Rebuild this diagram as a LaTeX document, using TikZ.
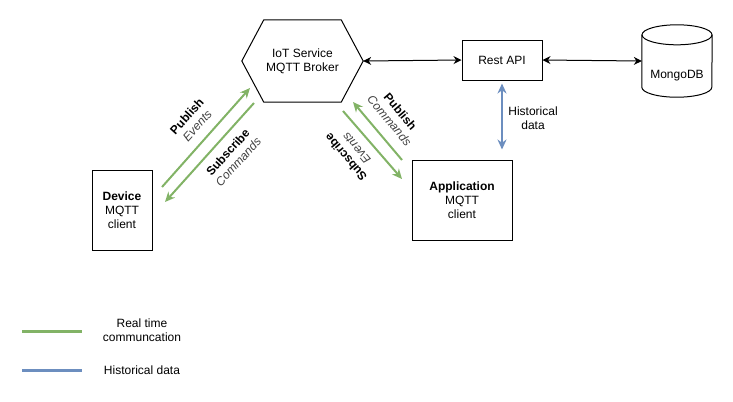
\documentclass[tikz,border=0pt]{standalone}
\usepackage{fontspec}
\setmainfont{Liberation Sans}
\usetikzlibrary{arrows.meta}

\definecolor{rtgreen}{HTML}{82B366}
\definecolor{hdblue}{HTML}{6C8EBF}

\tikzset{
  every node/.style={font=\fontsize{12bp}{14bp}\selectfont, align=center},
  box/.style={draw, rectangle, line width=1bp},
  linkarrow/.style={line width=1bp, {Stealth[length=8bp,width=8bp]}-{Stealth[length=8bp,width=8bp]}},
  realtime/.style={draw=rtgreen, line width=2bp, -{Stealth[length=10bp,width=9bp]}},
  histdata/.style={draw=hdblue, line width=2bp, {Stealth[length=10bp,width=9bp]}-{Stealth[length=10bp,width=9bp]}},
  legendline/.style={line width=3bp}
}

\begin{document}
\begin{tikzpicture}[x=1bp, y=-1bp]
  \useasboundingbox (0,0) rectangle (733,401);

  \node (broker) [rectangle, minimum width=121bp, minimum height=82bp] at (302.5,61) {IoT Service\\MQTT Broker};
  \draw[line width=1bp] (broker.west) -- ([xshift=22bp]broker.north west) -- ([xshift=-22bp]broker.north east)
    -- (broker.east) -- ([xshift=-22bp]broker.south east) -- ([xshift=22bp]broker.south west) -- cycle;

  \node (restapi) [box, minimum width=80bp, minimum height=40bp] at (502,60) {Rest API};

  \node (mongo) [rectangle, minimum width=70bp, minimum height=72bp] at (677,61) {};
  \draw[line width=1bp] ([yshift=-10bp]mongo.north) ellipse [x radius=35bp, y radius=10bp];
  \draw[line width=1bp] ([yshift=-10bp]mongo.north west) -- ([yshift=10bp]mongo.south west)
    arc[start angle=180, end angle=360, x radius=35bp, y radius=10bp] -- ([yshift=-10bp]mongo.north east);
  \node (mongotext) at (677,76) {MongoDB};

  \node (device) [box, minimum width=60bp, minimum height=80bp] at (122,210) {\textbf{Device}\\MQTT\\client};
  \node (app) [box, minimum width=100bp, minimum height=80bp] at (462,200) {\textbf{Application}\\MQTT\\client};

  \draw[linkarrow] (broker.east) -- (restapi.west);
  \draw[linkarrow] (restapi.east) -- (mongo.west);
  \draw[histdata, shorten <=3bp, shorten >=10bp] (restapi.south) -- (restapi.south |- app.north);
  \node (histlabel) at (533,118) {Historical\\data};

  \coordinate (devpubA) at (162,187);
  \coordinate (devpubB) at (250,88);
  \coordinate (devsubA) at (254,103);
  \coordinate (devsubB) at (165,202);
  \coordinate (apppubA) at (402,160);
  \coordinate (apppubB) at (353,102);
  \coordinate (appsubA) at (343,111);
  \coordinate (appsubB) at (402,179);

  \draw[realtime] (devpubA) -- (devpubB);
  \draw[realtime] (devsubA) -- (devsubB);
  \draw[realtime] (apppubA) -- (apppubB);
  \draw[realtime] (appsubA) -- (appsubB);

  \node (devpub) [rotate=48] at (192,121) {\textbf{Publish}\\\textit{\color{black!75}Events}};
  \node (devsub) [rotate=48] at (233,157) {\textbf{Subscribe}\\\textit{\color{black!75}Commands}};
  \node (apppub) [rotate=-50] at (395,116) {\textbf{Publish}\\\textit{\color{black!75}Commands}};
  \node (appsub) [rotate=130] at (351,153) {\textbf{Subscribe}\\\textit{\color{black!75}Events}};

  \coordinate (legA) at (22,331);
  \coordinate (legB) at (82,331);
  \coordinate (legC) at (22,370);
  \coordinate (legD) at (82,370);
  \draw[legendline, rtgreen] (legA) -- (legB);
  \draw[legendline, hdblue] (legC) -- (legD);
  \node (legrt) at (142,330) {Real time\\communcation};
  \node (leghd) at (142,370) {Historical data};
\end{tikzpicture}
\end{document}
